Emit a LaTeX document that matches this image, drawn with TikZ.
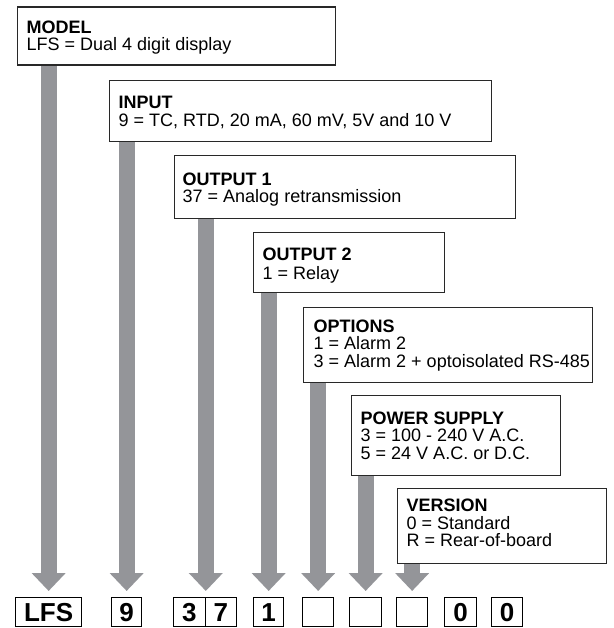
\documentclass[tikz,border=0pt]{standalone}
\usepackage{fontspec}
\setmainfont{Liberation Sans}
\usetikzlibrary{arrows.meta,backgrounds}
\definecolor{shaftgray}{RGB}{148,149,153}
\definecolor{edge}{RGB}{40,40,40}
\begin{document}
\begin{tikzpicture}[x=1pt,y=-1pt,
  box/.style={draw=edge, line width=1.2pt, fill=white, anchor=north west, inner sep=0pt},
  txt/.style={anchor=north west, inner sep=0pt, align=left, font=\fontsize{18}{#1}\selectfont},
  txt/.default=17.5,
  digit/.style={draw=black, line width=1.3pt, anchor=north west, inner sep=0pt, minimum height=29pt, font=\fontsize{26}{26}\selectfont\bfseries},
  shaft/.style={draw=shaftgray, line width=16pt, -{Triangle[width=33pt,length=18pt]}, shorten >=6pt}
]
\useasboundingbox (0,0) rectangle (613,628);

% description boxes
\node[box, minimum width=318pt, minimum height=58pt] (model) at (17,6.5) {};
\node[box, minimum width=382pt, minimum height=61pt] (input) at (109,80) {};
\node[box, minimum width=341pt, minimum height=63pt] (out1) at (174,155) {};
\node[box, minimum width=191pt, minimum height=60pt] (out2) at (253,232) {};
\node[box, minimum width=289pt, minimum height=75pt] (opts) at (303,307) {};
\node[box, minimum width=209pt, minimum height=80pt] (ps) at (351,395) {};
\node[box, minimum width=209pt, minimum height=75pt] (ver) at (397,488) {};

% texts
\node[txt=16.8] (model-t) at (26.5,19.3) {\rule{0pt}{14pt}\textbf{MODEL}\\LFS = Dual 4 digit display};
\node[txt] (input-t) at (118.5,94.8) {\rule{0pt}{14pt}\textbf{INPUT}\\9 = TC, RTD, 20 mA, 60 mV, 5V and 10 V};
\node[txt] (out1-t) at (182.5,171) {\rule{0pt}{14pt}\textbf{OUTPUT 1}\\37 = Analog retransmission};
\node[txt=19] (out2-t) at (262.5,246) {\rule{0pt}{14pt}\textbf{OUTPUT 2}\\1 = Relay};
\node[txt] (opts-t) at (313.5,318) {\rule{0pt}{14pt}\textbf{OPTIONS}\\1 = Alarm 2\\3 = Alarm 2 + optoisolated RS-485};
\node[txt] (ps-t) at (360.5,410) {\rule{0pt}{14pt}\textbf{POWER SUPPLY}\\3 = 100 - 240 V A.C.\\5 = 24 V A.C. or D.C.};
\node[txt] (ver-t) at (406.5,497.7) {\rule{0pt}{14pt}\textbf{VERSION}\\0 = Standard\\R = Rear-of-board};

% code boxes
\node[digit, minimum width=66pt] (lfs) at (15,597) {LFS};
\node[digit, minimum width=30pt] (d9) at (111,597) {9};
\node[digit, minimum width=31.5pt] (d3) at (173,597) {3};
\node[digit, minimum width=31.5pt] (d7) at (204.5,597) {7};
\node[digit, minimum width=30pt] (d1) at (253,597) {1};
\node[digit, minimum width=31pt] (e1) at (302,597) {};
\node[digit, minimum width=32pt] (e2) at (349,597) {};
\node[digit, minimum width=31pt] (e3) at (396,597) {};
\node[digit, minimum width=32pt] (z1) at (444,597) {0};
\node[digit, minimum width=31pt] (z2) at (491,597) {0};

% arrows
\begin{scope}[on background layer]
\draw[shaft] (model.south -| lfs.north) -- (lfs.north);
\draw[shaft] (input.south -| d9.north) -- (d9.north);
\draw[shaft] (out1.south -| d3.north east) -- (d3.north east);
\draw[shaft] (out2.south -| d1.north) -- (d1.north);
\draw[shaft] (opts.south -| e1.north) -- (e1.north);
\draw[shaft] (ps.south -| e2.north) -- (e2.north);
\draw[shaft] (ver.south -| e3.north) -- (e3.north);
\end{scope}
\end{tikzpicture}
\end{document}
